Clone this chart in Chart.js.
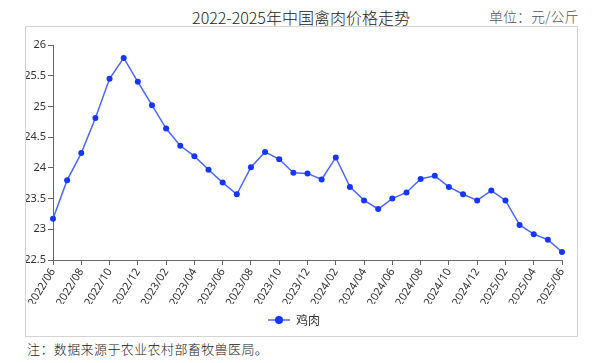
<!DOCTYPE html>
<html>
<head>
<meta charset="utf-8">
<title>2022-2025年中国禽肉价格走势</title>
<script src="https://cdn.jsdelivr.net/npm/chart.js@4.4.0/dist/chart.umd.min.js"></script>
<style>
  body { margin: 0; width: 606px; height: 363px; background: #fff; position: relative; overflow: hidden;
         font-family: "Noto Sans CJK SC", "Noto Sans", sans-serif; }
  #title { position: absolute; left: 0; width: 602px; top: 7px; text-align: center; font-size: 16px; line-height: 20px;
           font-weight: 300; color: #222; }
  #unit { position: absolute; left: 489px; top: 7px; font-size: 14px; line-height: 18px; font-weight: 300; color: #555; }
  #box { position: absolute; left: 25px; top: 26px; width: 551px; height: 309px; border: 1px solid #d4d4d4; }
  #note { position: absolute; left: 27px; top: 341px; font-size: 13px; line-height: 18px; letter-spacing: 0.4px; color: #222;
          font-weight: 300; font-family: "DejaVu Serif", "Noto Sans CJK SC", serif; }
</style>
</head>
<body>
<div id="title">2022-2025年中国禽肉价格走势</div>
<div id="unit">单位：元/公斤</div>
<div id="box"><canvas id="chart" width="551" height="309"></canvas></div>
<div id="note">注：数据来源于农业农村部畜牧兽医局。</div>

<script>
// months on the x axis (2022/06 - 2025/06)
const months = [
  '2022/06', '2022/07', '2022/08', '2022/09', '2022/10', '2022/11', '2022/12',
  '2023/01', '2023/02', '2023/03', '2023/04', '2023/05', '2023/06', '2023/07', '2023/08',
  '2023/09', '2023/10', '2023/11', '2023/12', '2024/01', '2024/02', '2024/03', '2024/04',
  '2024/05', '2024/06', '2024/07', '2024/08', '2024/09', '2024/10', '2024/11', '2024/12',
  '2025/01', '2025/02', '2025/03', '2025/04', '2025/05', '2025/06'
];

// chicken price, yuan / kg
const chicken = [
  23.17, 23.80, 24.24, 24.81, 25.45, 25.79, 25.40,
  25.02, 24.64, 24.36, 24.19, 23.97, 23.76, 23.57, 24.01,
  24.26, 24.14, 23.92, 23.91, 23.81, 24.17, 23.69, 23.47,
  23.33, 23.50, 23.60, 23.82, 23.87, 23.69, 23.57, 23.47,
  23.63, 23.47, 23.07, 22.92, 22.83, 22.63
];

// y axis range
const yMin = 22.5;
const yMax = 26;
const yStep = 0.5;

const lineColor = '#4a68ff';
const dotColor = '#1536ff';
const axisColor = '#666';

// little "line + dot" icon for the legend
function legendIcon() {
  const c = document.createElement('canvas');
  c.width = 22;
  c.height = 10;
  const g = c.getContext('2d');
  g.strokeStyle = lineColor;
  g.lineWidth = 1.5;
  g.beginPath();
  g.moveTo(0, 5);
  g.lineTo(22, 5);
  g.stroke();
  g.fillStyle = dotColor;
  g.beginPath();
  g.arc(11, 5, 4, 0, Math.PI * 2);
  g.fill();
  return c;
}

const ctx = document.getElementById('chart').getContext('2d');

new Chart(ctx, {
  type: 'line',
  data: {
    labels: months,
    datasets: [{
      label: '鸡肉',
      data: chicken,
      borderColor: lineColor,
      borderWidth: 1.5,
      pointRadius: 3,
      pointBackgroundColor: dotColor,
      pointBorderColor: dotColor,
      pointBorderWidth: 0,
      tension: 0,
      fill: false
    }]
  },
  options: {
    responsive: false,
    animation: false,
    layout: {
      padding: { left: 0, right: 15, top: 18, bottom: 0 }
    },
    plugins: {
      title: { display: false },
      tooltip: { enabled: false },
      legend: {
        position: 'bottom',
        labels: {
          usePointStyle: true,
          pointStyle: legendIcon(),
          pointStyleWidth: 22,
          color: '#333',
          padding: 10,
          font: { size: 12, family: '"Noto Sans CJK SC", sans-serif' }
        }
      }
    },
    scales: {
      x: {
        offset: false,
        grid: { display: true, drawOnChartArea: false, drawTicks: true, tickLength: 5, color: axisColor },
        border: { display: true, color: axisColor, width: 1 },
        ticks: {
          autoSkip: false,
          minRotation: 58,
          maxRotation: 58,
          padding: 1,
          color: '#333',
          font: { size: 11, family: '"Noto Sans", sans-serif' },
          // only every second month gets a tick and a label
          callback: function (value, index) {
            return index % 2 === 0 ? months[index] : null;
          }
        },
        afterFit: function (scale) {
          scale.height = 44;
        }
      },
      y: {
        min: yMin,
        max: yMax,
        grid: { display: true, drawOnChartArea: false, drawTicks: true, tickLength: 5, color: axisColor },
        border: { display: true, color: axisColor, width: 1 },
        ticks: {
          stepSize: yStep,
          padding: 2,
          color: '#333',
          font: { size: 11, family: '"Noto Sans", sans-serif' },
          // 26 not 26.0
          callback: function (value) {
            return String(Math.round(value * 10) / 10);
          }
        },
        afterFit: function (scale) {
          scale.width = 27;
        }
      }
    }
  }
});
</script>
</body>
</html>
